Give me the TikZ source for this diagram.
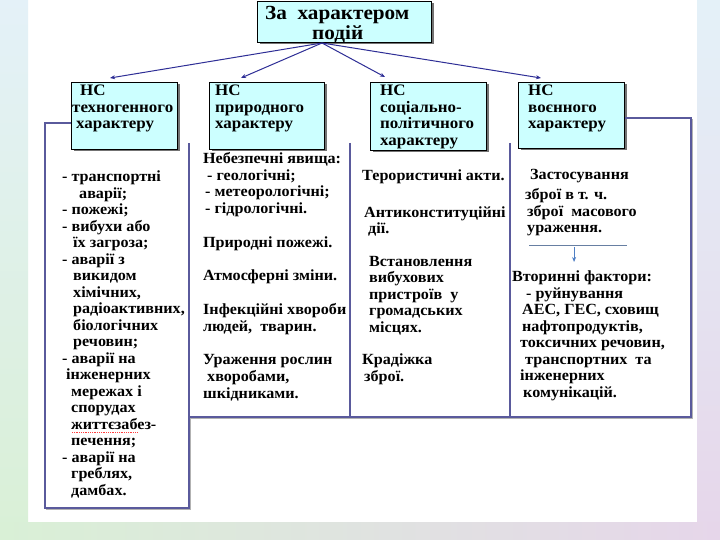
\documentclass[tikz,border=0pt]{standalone}
\usepackage{fontspec}
\setmainfont{Liberation Serif}
\newfontfamily\slidefont[FakeStretch=1.06]{Liberation Serif}
\newfontfamily\listfont[FakeStretch=1.04]{Liberation Serif}
\usetikzlibrary{arrows.meta,calc,shadows}

\definecolor{kindcyan}{HTML}{CCFFFF}
\definecolor{framenavy}{HTML}{5A5A9C}
\definecolor{hubnavy}{HTML}{2E2E96}
\definecolor{ruleblue}{HTML}{4F7FC4}
\definecolor{slideblue}{HTML}{E4F1F8}
\definecolor{slidegreen}{HTML}{D9F0D6}
\definecolor{slideyellow}{HTML}{F4F3D6}
\definecolor{slidepink}{HTML}{E6D6EA}

\tikzset{
	kind/.style={draw=black,fill=kindcyan,line width=1pt,anchor=north west,inner sep=0pt,
		drop shadow={shadow xshift=2pt,shadow yshift=-2pt,fill=black!55,opacity=1}},
	kindtext/.style={anchor=north west,align=left,inner sep=0pt,font=\slidefont\bfseries\fontsize{16}{16.5}\selectfont},
	listtext/.style={anchor=north west,align=left,inner sep=0pt,font=\listfont\bfseries\fontsize{15.5}{16.5}\selectfont},
	frame/.style={draw=framenavy,line width=1.3pt},
	frameshadow/.style={draw=black!30,line width=1.5pt,transform canvas={xshift=1pt,yshift=-1.5pt}},
	hub/.style={draw=hubnavy,line width=1pt}
}

\begin{document}
\begin{tikzpicture}[x=1pt,y=-1pt,>={Stealth[length=5pt,width=4pt]}]
	\useasboundingbox (0,0) rectangle (720,540);
	%% slide background
	\fill[white] (0,0) rectangle (720,540);
	\shade[top color=slideblue,middle color=white,bottom color=slidegreen] (0,0) rectangle (28,540);
	\shade[top color=slideblue,middle color=white,bottom color=slidepink] (697,0) rectangle (720,540);
	\shade[left color=slidegreen,middle color=slideyellow,right color=slidepink] (0,522) rectangle (720,540);

		\node[kind,minimum width=174pt,minimum height=41pt] (Kinds) at (257,1) {};
		\node[kind,minimum width=106pt,minimum height=67pt] (TechBox) at (71,82) {};
		\node[kind,minimum width=115pt,minimum height=67pt] (NatureBox) at (209,82) {};
		\node[kind,minimum width=116pt,minimum height=68pt] (SocialBox) at (370,82) {};
		\node[kind,minimum width=106pt,minimum height=66pt] (WarBox) at (518,82) {};

		\node[kindtext,font=\slidefont\bfseries\fontsize{20}{20}\selectfont] (KindsText) at (265,6) {За\ \ характером\\\hspace*{47pt}подій};
		\node[kindtext] (TechText) at (72,85) {\hspace*{8pt}НС\\техногенного\\\hspace*{4pt}характеру};
		\node[kindtext] (NatureText) at (215,85) {НС\\природного\\характеру};
		\node[kindtext] (SocialText) at (380,85) {НС\\соціально-\\політичного\\характеру};
		\node[kindtext] (WarText) at (528,85) {НС\\воєнного\\характеру};

		\coordinate (Hub) at ($(Kinds.south west)+(65,0)$);
		\draw[->,hub] (Hub) to ($(TechBox.north west)+(39,-4)$);
		\draw[->,hub] (Hub) to ($(NatureBox.north west)+(32,-4)$);
		\draw[->,hub] (Hub) to ($(SocialBox.north west)+(15,-5)$);
		\draw[->,hub] (Hub) to ($(WarBox.north west)+(23,-4)$);

        %% frames under the boxes
        \coordinate (TechJoin) at ($(TechBox.north west)+(0,41)$);
        \coordinate (WarJoin) at ($(WarBox.north east)+(0,36)$);
        \draw[frameshadow] (45,508) -| (189,417) -| (691,118);
        \draw[frame] (TechJoin) -| (45,508) -| (189,143);
        \draw[frame] (189,417) -| (691,118) -- (WarJoin);
        \draw[frame] (350,143) -- (350,417);
        \draw[frame] (510,143) -- (510,417);

        \node[listtext] (TechList) at (62,171) {- транспортні\\
\hspace*{17pt}аварії;\\
- пожежі;\\
- вибухи або\\
\hspace*{11pt}їх загроза;\\
- аварії з\\
\hspace*{11pt}викидом\\
\hspace*{11pt}хімічних,\\
\hspace*{11pt}радіоактивних,\\
\hspace*{11pt}біологічних\\
\hspace*{11pt}речовин;\\
- аварії на\\
\hspace*{4pt}інженерних\\
\hspace*{9pt}мережах і\\
\hspace*{9pt}спорудах\\
\hspace*{9pt}життєзабез-\\
\hspace*{9pt}печення;\\
- аварії на\\
\hspace*{9pt}греблях,\\
\hspace*{9pt}дамбах.};
        \draw[red!75,densely dotted,line width=0.8pt] (72,432) -- (137,432);

        \node[listtext,font=\listfont\bfseries\fontsize{15.5}{16.8}\selectfont] (NatureList) at (203,152) {Небезпечні явища:\\
\hspace*{4pt}- геологічні;\\
\hspace*{2pt}- метеорологічні;\\
\hspace*{2pt}- гідрологічні.\\[16.8pt]
Природні пожежі.\\[16.8pt]
Атмосферні зміни.\\[16.8pt]
Інфекційні хвороби\\
людей,\ \ тварин.\\[16.8pt]
Ураження рослин\\
\hspace*{4pt}хворобами,\\
шкідниками.};

        \node[listtext] (SocialList) at (362,170) {Терористичні акти.\\[20pt]
\hspace*{2pt}Антиконституційні\\
\hspace*{6pt}дії.\\[16pt]
\hspace*{7pt}Встановлення\\
\hspace*{7pt}вибухових\\
\hspace*{7pt}пристроїв\ \ у\\
\hspace*{7pt}громадських\\
\hspace*{7pt}місцях.\\[16pt]
Крадіжка\\
\hspace*{2pt}зброї.};

        \node[listtext] (WarList) at (525,169) {\hspace*{5pt}Застосування\\[4pt]
зброї в т. ч.\\
\hspace*{2pt}зброї\ \ масового\\
\hspace*{2pt}ураження.};
        \coordinate (RuleLeft) at (529,245);
        \coordinate (RuleRight) at (627,245);
        \draw[draw=ruleblue!50!gray,line width=0.8pt] (RuleLeft) -- (RuleRight);

        \node[listtext] (SecondaryList) at (512,271) {Вторинні фактори:\\
\hspace*{14pt}- руйнування\\
\hspace*{10pt}АЕС, ГЕС, сховищ\\
\hspace*{10pt}нафтопродуктів,\\
\hspace*{8pt}токсичних речовин,\\
\hspace*{13pt}транспортних\ \ та\\
\hspace*{8pt}інженерних\\
\hspace*{11pt}комунікацій.};
        \draw[->,draw=ruleblue,line width=1pt] ($(RuleLeft)!0.46!(RuleRight)+(0,2)$) to ($(RuleLeft)!0.46!(RuleRight)+(0,17)$);
	\end{tikzpicture}
\end{document}
